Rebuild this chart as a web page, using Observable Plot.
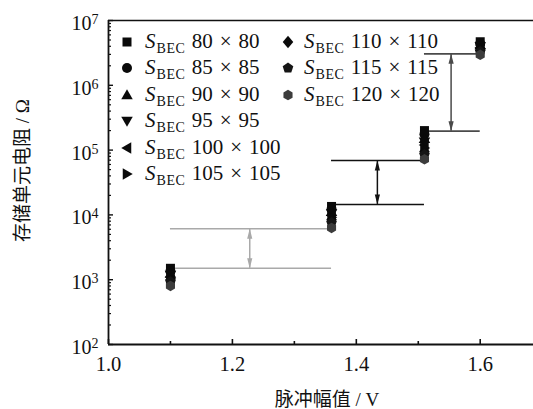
<!DOCTYPE html>
<html>
<head>
<meta charset="utf-8">
<script src="https://cdn.jsdelivr.net/npm/d3@7"></script>
<script src="https://cdn.jsdelivr.net/npm/@observablehq/plot@0.6"></script>
<style>
  html, body { margin: 0; padding: 0; background: white; }
  #wrap { position: relative; width: 533px; height: 409px; overflow: hidden; }
  #legend .item { position: absolute; height: 24px; display: flex; align-items: center;
    font-family: "Liberation Serif", "DejaVu Serif", serif; font-size: 21px; color: #111; white-space: nowrap; }
  #legend svg { position: absolute; top: 5px; }
  #legend .txt { position: absolute; top: 0px; line-height: 22px; }
  #legend .sub { font-size: 14px; position: relative; top: 5px; margin-left: 1px; margin-right: 1px; letter-spacing: 0.6px; }
  #legend .times { margin: 0 0.33em; }
</style>
</head>
<body>
<div id="wrap">
  <div id="chart"></div>
  <div id="legend"></div>
</div>
<script>
// ---------------- data ----------------
const voltages = [1.10, 1.36, 1.51, 1.60];          // pulse amplitude (V)
const seriesLabels = ["80×80", "85×85", "90×90", "95×95", "100×100", "105×105", "110×110", "115×115", "120×120"];
const s80  = [1500, 13500, 200000, 4.7e6];
const s85  = [1350, 12200, 175000, 4.4e6];
const s90  = [1250, 11200, 150000, 4.2e6];
const s95  = [1180, 10500, 135000, 4.0e6];
const s100 = [1100,  9800, 120000, 3.8e6];
const s105 = [1050,  9200, 108000, 3.65e6];
const s110 = [1000,  8500,  95000, 3.5e6];
const s115 = [ 930,  7600,  85000, 3.3e6];
const s120 = [ 800,  6300,  72000, 2.95e6];
const seriesValues = [s80, s85, s90, s95, s100, s105, s110, s115, s120];

// windows between adjacent resistance levels
const gapStart = [1.10, 1.36, 1.51];
const gapEnd   = [1.36, 1.51, 1.60];
const gapLow   = [1500, 14500, 196000];
const gapHigh  = [6100, 69000, 3.06e6];
const gapArrowX = [1.228, 1.434, 1.553];

const xTickMajor = [1.0, 1.2, 1.4, 1.6];
const xTickMinor = [1.1, 1.3, 1.5];
const yTickMajor = [1e2, 1e3, 1e4, 1e5, 1e6, 1e7];

// ---------------- styles ----------------
const gapColors = ["#a9a9a9", "#111111", "#4a4a4a"];
const seriesFill = ["#0a0a0a", "#0a0a0a", "#0a0a0a", "#0a0a0a", "#0a0a0a", "#0a0a0a", "#0a0a0a", "#151515", "#3c3c3c"];
const SERIF = "'Liberation Serif', 'DejaVu Serif', serif";
const LABELFONT = "'Liberation Serif', 'Noto Sans CJK SC', serif";

function poly(ctx, pts) {
  ctx.moveTo(pts[0][0], pts[0][1]);
  for (let i = 1; i < pts.length; i++) ctx.lineTo(pts[i][0], pts[i][1]);
  ctx.closePath();
}
const rOf = s => Math.sqrt(s / Math.PI);
const regular = (n, R, rot) => d3.range(n).map(i => {
  const a = rot + i * 2 * Math.PI / n;
  return [R * Math.sin(a), -R * Math.cos(a)];
});
const symSquare = {draw(c, s) { const h = rOf(s) * 0.9; poly(c, [[-h,-h],[h,-h],[h,h],[-h,h]]); }};
const symCircle = {draw(c, s) { const r = rOf(s); c.moveTo(r, 0); c.arc(0, 0, r, 0, 2 * Math.PI); }};
const symUp    = {draw(c, s) { const r = rOf(s); poly(c, [[0,-1.15*r],[1.15*r,0.85*r],[-1.15*r,0.85*r]]); }};
const symDown  = {draw(c, s) { const r = rOf(s); poly(c, [[0,1.15*r],[1.15*r,-0.85*r],[-1.15*r,-0.85*r]]); }};
const symLeft  = {draw(c, s) { const r = rOf(s); poly(c, [[-1.15*r,0],[0.85*r,-1.15*r],[0.85*r,1.15*r]]); }};
const symRight = {draw(c, s) { const r = rOf(s); poly(c, [[1.15*r,0],[-0.85*r,-1.15*r],[-0.85*r,1.15*r]]); }};
const symDiamond = {draw(c, s) { const r = rOf(s); poly(c, [[0,-1.25*r],[1.05*r,0],[0,1.25*r],[-1.05*r,0]]); }};
const symPentagon = {draw(c, s) { poly(c, regular(5, rOf(s) * 1.12, 0)); }};
const symHexagon = {draw(c, s) { poly(c, regular(6, rOf(s) * 1.05, 0)); }};
const seriesSymbols = [symSquare, symCircle, symUp, symDown, symLeft, symRight, symDiamond, symPentagon, symHexagon];
const arrowUp   = {draw(c) { poly(c, [[0,0],[2.6,10],[-2.6,10]]); }};
const arrowDown = {draw(c) { poly(c, [[0,0],[2.6,-10],[-2.6,-10]]); }};

// ---------------- chart ----------------
const W = 533, H = 409, mL = 108, mR = 0, mT = 20, mB = 65;
const frameW = W - mL - mR, frameH = H - mT - mB;

const gaps = gapStart.map((s, i) => ({x1: s, x2: gapEnd[i], lo: gapLow[i], hi: gapHigh[i], ax: gapArrowX[i], c: gapColors[i]}));
const yMinor = d3.scaleLog().domain([1e2, 1e7]).ticks().filter(v => !yTickMajor.includes(v));

const dotMarks = seriesValues.map((vals, i) =>
  Plot.dot(voltages.map((v, j) => ({v, r: vals[j]})), {
    x: "v", y: "r", symbol: seriesSymbols[i], r: 5, fill: seriesFill[i], stroke: "none"
  })
);

const chart = Plot.plot({
  width: W, height: H,
  marginLeft: mL, marginRight: mR, marginTop: mT, marginBottom: mB,
  style: {fontFamily: SERIF, fontSize: "20px", color: "#111", background: "white"},
  x: {domain: [1.0, 1.686]},
  y: {type: "log", domain: [1e2, 1e7]},
  marks: [
    Plot.axisX(xTickMajor, {tickSize: 0, tickPadding: 12, tickFormat: d => d.toFixed(1), label: null, fontSize: 20.5}),
    Plot.axisY(yTickMajor, {tickSize: 0, tickPadding: 10, tickFormat: d => "10^" + Math.round(Math.log10(d)), label: null, fontSize: 20, dy: 3}),
    Plot.tickX(xTickMajor, {x: d => d, insetTop: frameH - 5, strokeWidth: 1.6, stroke: "#111"}),
    Plot.tickX(xTickMinor, {x: d => d, insetTop: frameH - 3, strokeWidth: 1.6, stroke: "#111"}),
    Plot.tickY(yTickMajor, {y: d => d, insetRight: frameW - 5, strokeWidth: 1.4, stroke: "#111"}),
    Plot.tickY(yMinor, {y: d => d, insetRight: frameW - 3, strokeWidth: 1.2, stroke: "#111"}),
    Plot.ruleY([1e7], {strokeWidth: 1.6, stroke: "#111"}),
    Plot.ruleY([1e2], {strokeWidth: 1.8, stroke: "#111"}),
    Plot.ruleX([1.0], {strokeWidth: 1.8, stroke: "#111"}),
    Plot.ruleY(gaps, {y: "lo", x1: "x1", x2: "x2", stroke: "c", strokeWidth: 1.6}),
    Plot.ruleY(gaps, {y: "hi", x1: "x1", x2: "x2", stroke: "c", strokeWidth: 1.6}),
    Plot.ruleX(gaps, {x: "ax", y1: "lo", y2: "hi", stroke: "c", strokeWidth: 1.5}),
    Plot.dot(gaps, {x: "ax", y: "hi", symbol: arrowUp, fill: "c", stroke: "none"}),
    Plot.dot(gaps, {x: "ax", y: "lo", symbol: arrowDown, fill: "c", stroke: "none"}),
    ...dotMarks,
    Plot.text(["脉冲幅值 / V"], {frameAnchor: "bottom", dx: 6, dy: 61, fontSize: 19, fontFamily: LABELFONT, fill: "#111", text: d => d}),
    Plot.text(["存储单元电阻 / Ω"], {frameAnchor: "left", textAnchor: "middle", dx: -86, dy: -12, rotate: -90, fontSize: 19, fontFamily: LABELFONT, fill: "#111", text: d => d})
  ]
});

// superscript exponents on the y tick labels
d3.select(chart).selectAll("text").each(function() {
  const m = /^10\^(\d+)$/.exec(this.textContent);
  if (m) {
    const t = d3.select(this);
    t.text("10");
    t.append("tspan").attr("dy", "-0.42em").attr("font-size", "14px").text(m[1]);
  }
});
document.getElementById("chart").appendChild(chart);

// ---------------- legend ----------------
const legend = d3.select("#legend");
const symX = [127, 288], txtX = [145, 304], row0 = 42, rowStep = 26.4;
seriesLabels.forEach((lab, i) => {
  const col = i < 6 ? 0 : 1, row = i < 6 ? i : i - 6;
  const cy = row0 + row * rowStep;
  const item = legend.append("div").attr("class", "item")
    .style("left", (symX[col] - 7) + "px").style("top", (cy - 12) + "px");
  const svg = item.append("svg").attr("width", 14).attr("height", 14).attr("viewBox", "-7 -7 14 14");
  svg.append("path").attr("d", d3.symbol(seriesSymbols[i], 25 * Math.PI)()).attr("fill", seriesFill[i]);
  const parts = lab.split("×");
  item.append("span").attr("class", "txt").style("left", (txtX[col] - symX[col] + 7) + "px")
    .html(`<i>S</i><span class="sub">BEC</span> ${parts[0]}<span class="times">×</span>${parts[1]}`);
});
</script>
</body>
</html>
